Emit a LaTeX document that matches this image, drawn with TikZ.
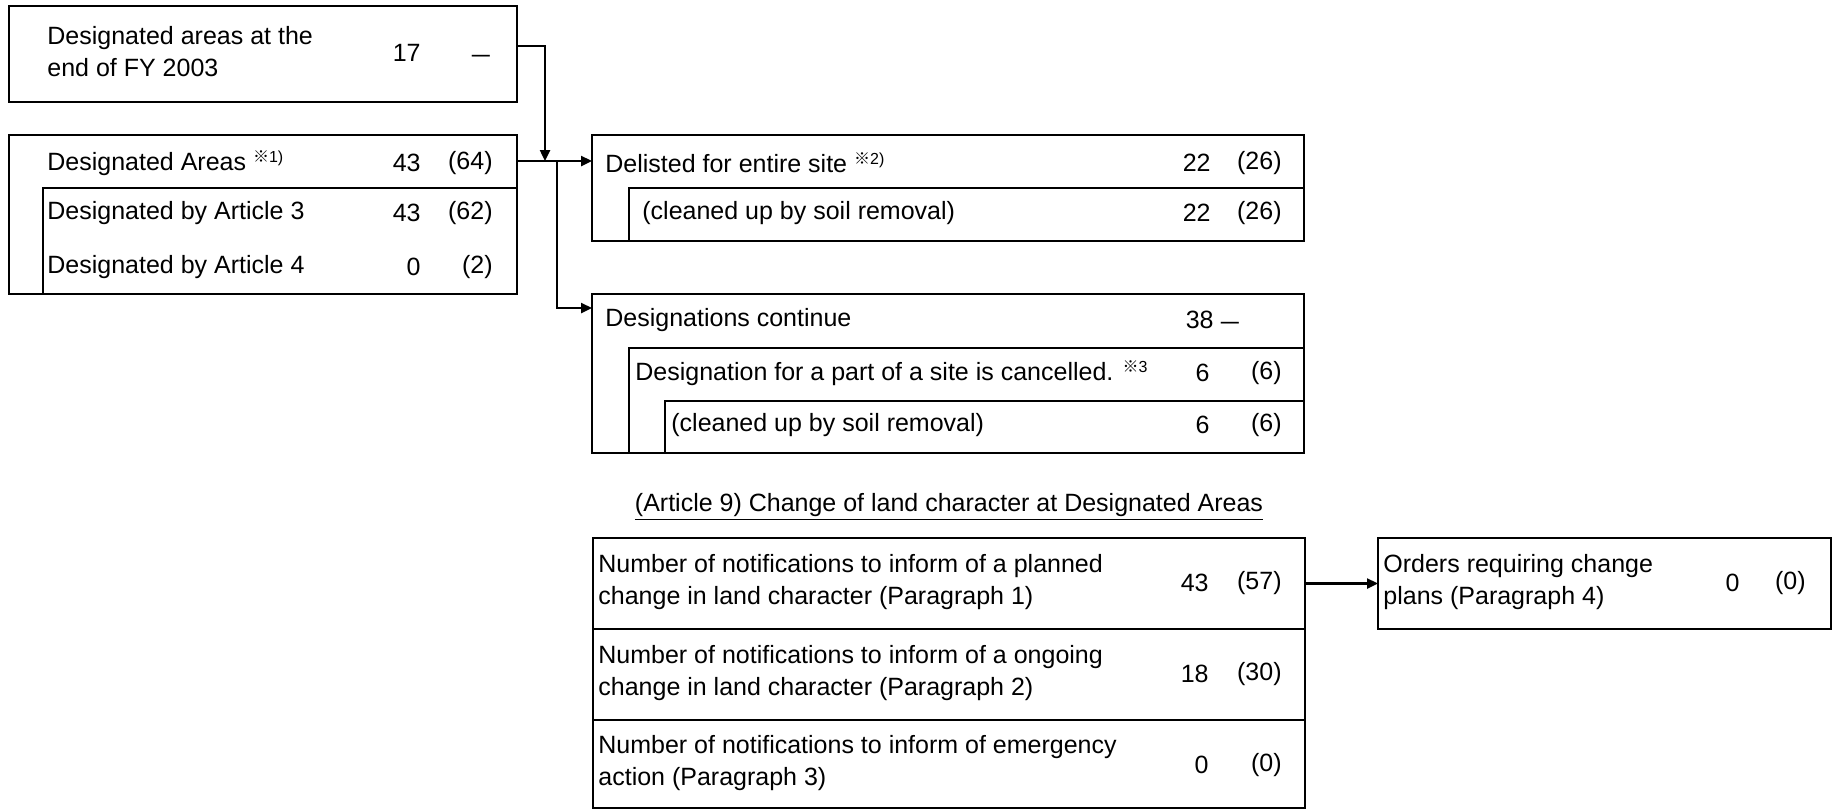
\documentclass[tikz,border=0pt]{standalone}
\usepackage{fontspec}
\setmainfont{Liberation Sans}
\newfontfamily\cjkfont{Noto Sans CJK JP}
\usepackage{tikz}
\usetikzlibrary{
  arrows.meta,
  fit
}
\definecolor{inkblack}{RGB}{0,0,0}
\newcommand{\komemark}[1]{\raisebox{0.6ex}{\fontsize{8}{8}\selectfont{\cjkfont ※}#1}}
\tikzset{
  panel/.style={draw=inkblack,line width=1.3pt,inner sep=0pt,outer sep=0pt},
  lab/.style={anchor=west,align=left,inner sep=0pt,text=inkblack,
    font=\fontsize{12.5}{16}\selectfont},
  num/.style={anchor=east,inner sep=0pt,text=inkblack,
    font=\fontsize{12.5}{16}\selectfont},
  nilmark/.style={anchor=base,inner sep=0pt,text=inkblack,
    font=\fontsize{12.5}{16}\selectfont},
  headline/.style={inner sep=0pt,font=\fontsize{12.5}{16}\selectfont},
  flow/.style={-{Triangle[length=5.5pt,width=5pt]},line width=1.2pt,draw=inkblack}
}

\begin{document}
\begin{tikzpicture}[x=0.5pt,y=-0.5pt]
  \useasboundingbox (0,0) rectangle (1834,811);
  \node[panel,fit={(9,6) (517,102)}] (areas03) {};
  \node[panel,fit={(9,135) (517,294)}] (desig) {};
  \node[panel,fit={(43,188) (517,294)}] (desigsub) {};
  \node[panel,fit={(592,135) (1304,241)}] (delisted) {};
  \node[panel,fit={(629,188) (1304,241)}] (delistsub) {};
  \node[panel,fit={(592,294) (1304,453)}] (contin) {};
  \node[panel,fit={(629,348) (1304,453)}] (contsub) {};
  \node[panel,fit={(665,401) (1304,453)}] (contsoil) {};
  \node[panel,fit={(593,538) (1305,629)}] (planned) {};
  \node[panel,fit={(593,629) (1305,720)}] (ongoing) {};
  \node[panel,fit={(593,720) (1305,808)}] (emerg) {};
  \node[panel,fit={(1378,538) (1831,629)}] (orders) {};

  \node[lab] (areas03txt) at (47,52) {Designated areas at the\\end of FY 2003};
  \node[num] (areas03n) at (421,53) {17};
  \node[nilmark] (areas03p) at (481,62) {\scalebox{1.3}[1]{--}};
  \node[lab] (desigtxt) at (47,163) {Designated Areas \komemark{1)}};
  \node[num] (design) at (421,163) {43};
  \node[num] (desigp) at (493,163) {(64)};
  \node[lab] (art3txt) at (47,213) {Designated by Article 3};
  \node[num] (art3n) at (421,213) {43};
  \node[num] (art3p) at (493,213) {(62)};
  \node[lab] (art4txt) at (47,267) {Designated by Article 4};
  \node[num] (art4n) at (421,267) {0};
  \node[num] (art4p) at (493,267) {(2)};

  \node[lab] (delistedtxt) at (605,163) {Delisted for entire site \komemark{2)}};
  \node[num] (delistedn) at (1211,163) {22};
  \node[num] (delistedp) at (1282,163) {(26)};
  \node[lab] (delistsubtxt) at (642,213) {(cleaned up by soil removal)};
  \node[num] (delistsubn) at (1211,213) {22};
  \node[num] (delistsubp) at (1282,213) {(26)};

  \node[lab] (contintxt) at (605,320) {Designations continue};
  \node[num] (continn) at (1214,320) {38};
  \node[nilmark] (continp) at (1230,329) {\scalebox{1.3}[1]{--}};
  \node[lab] (contsubtxt) at (635,373) {Designation for a part of a site is cancelled. \komemark{3}};
  \node[num] (contsubn) at (1210,373) {6};
  \node[num] (contsubp) at (1282,373) {(6)};
  \node[lab] (contsoiltxt) at (671,425) {(cleaned up by soil removal)};
  \node[num] (contsoiln) at (1210,425) {6};
  \node[num] (contsoilp) at (1282,425) {(6)};

  \node[headline] (art9) at (949,507) {\underline{(Article 9) Change of land character at Designated Areas}};
  \node[lab] (plannedtxt) at (598,582) {Number of notifications to inform of a planned\\change in land character (Paragraph 1)};
  \node[num] (plannedn) at (1209,583) {43};
  \node[num] (plannedp) at (1282,583) {(57)};
  \node[lab] (ongoingtxt) at (598,673) {Number of notifications to inform of a ongoing\\change in land character (Paragraph 2)};
  \node[num] (ongoingn) at (1209,674) {18};
  \node[num] (ongoingp) at (1282,674) {(30)};
  \node[lab] (emergtxt) at (598,763) {Number of notifications to inform of emergency\\action (Paragraph 3)};
  \node[num] (emergn) at (1209,765) {0};
  \node[num] (emergp) at (1282,765) {(0)};
  \node[lab] (orderstxt) at (1383,582) {Orders requiring change\\plans (Paragraph 4)};
  \node[num] (ordersn) at (1740,583) {0};
  \node[num] (ordersp) at (1806,583) {(0)};

  \coordinate (join) at (545,161);
  \coordinate (fork) at (557,161);
  \draw[flow] ([yshift=4pt]areas03.east) -| (join);
  \draw[flow] (desig.east |- join) -- (delisted.west |- join);
  \draw[flow] (fork) |- ([yshift=-7pt]contin.north west);
  \draw[flow] (planned.east) -- (orders.west);
\end{tikzpicture}
\end{document}
